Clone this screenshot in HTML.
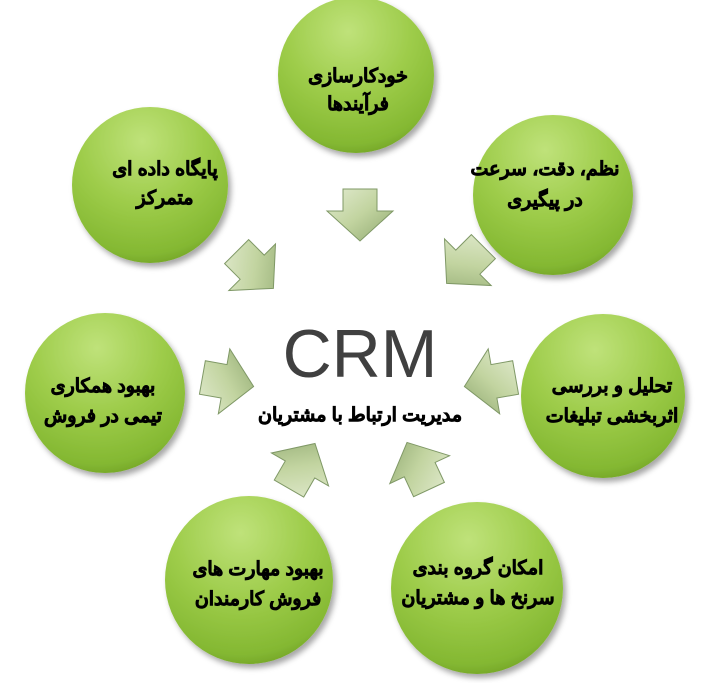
<!DOCTYPE html>
<html><head><meta charset="utf-8"><style>
html,body{margin:0;padding:0;background:#fff;}
svg{display:block;}
.t{font-family:"Liberation Sans","Noto Sans CJK SC",sans-serif;font-weight:bold;font-size:19px;fill:#000;stroke:#000;stroke-width:0.7px;text-anchor:middle;}
</style></head><body>
<svg width="725" height="683" viewBox="0 0 725 683" xmlns="http://www.w3.org/2000/svg">
<defs>
<radialGradient id="g" cx="0.45" cy="0.22" r="0.85">
<stop offset="0" stop-color="#bfe27a"/>
<stop offset="0.5" stop-color="#9ccb48"/>
<stop offset="0.85" stop-color="#84b832"/>
<stop offset="1" stop-color="#6a9a22"/>
</radialGradient>
<linearGradient id="a" x1="0" y1="0" x2="1" y2="1">
<stop offset="0" stop-color="#e2ebd0"/>
<stop offset="0.5" stop-color="#c2d4a0"/>
<stop offset="1" stop-color="#8fa870"/>
</linearGradient>
<filter id="s" x="-20%" y="-20%" width="140%" height="140%"><feDropShadow dx="3" dy="4" stdDeviation="3" flood-color="#000" flood-opacity="0.35"/></filter>
<g id="arr"><path d="M-17,-26 L17,-26 L17,-4 L33,-4 L0,26 L-33,-4 L-17,-4 Z" fill="url(#a)" stroke="#7f9866" stroke-width="1"/></g>
</defs>
<g filter="url(#s)">
<circle cx="356" cy="75" r="78" fill="url(#g)"/>
<circle cx="150" cy="185" r="78" fill="url(#g)"/>
<circle cx="553" cy="195" r="80" fill="url(#g)"/>
<circle cx="105" cy="393" r="80" fill="url(#g)"/>
<circle cx="603" cy="396" r="82" fill="url(#g)"/>
<circle cx="249" cy="580" r="84" fill="url(#g)"/>
<circle cx="477" cy="588" r="86" fill="url(#g)"/>
</g>
<use href="#arr" transform="translate(360,215)"/>
<use href="#arr" transform="translate(255,270) rotate(-45)"/>
<use href="#arr" transform="translate(465,265) rotate(45)"/>
<use href="#arr" transform="translate(228,382) rotate(-80)"/>
<use href="#arr" transform="translate(490,382) rotate(80)"/>
<use href="#arr" transform="translate(302,466) rotate(-150)"/>
<use href="#arr" transform="translate(418,466) rotate(155)"/>
<text x="360" y="377" font-family="Liberation Sans, sans-serif" font-size="68" fill="#404040" text-anchor="middle">CRM</text>
<text class="t" x="360" y="421">مدیریت ارتباط با مشتریان</text>
<text class="t" x="358" y="82">خودکارسازی</text>
<text class="t" x="358" y="110">فرآیندها</text>
<text class="t" x="165" y="175">پایگاه داده ای</text>
<text class="t" x="165" y="204">متمرکز</text>
<text class="t" x="545" y="175">نظم، دقت، سرعت</text>
<text class="t" x="545" y="206">در پیگیری</text>
<text class="t" x="103" y="392">بهبود همکاری</text>
<text class="t" x="103" y="422">تیمی در فروش</text>
<text class="t" x="612" y="392">تحلیل و بررسی</text>
<text class="t" x="612" y="422">اثربخشی تبلیغات</text>
<text class="t" x="258" y="575">بهبود مهارت های</text>
<text class="t" x="258" y="605">فروش کارمندان</text>
<text class="t" x="478" y="574">امکان گروه بندی</text>
<text class="t" x="478" y="604">سرنخ ها و مشتریان</text>
</svg>
</body></html>
